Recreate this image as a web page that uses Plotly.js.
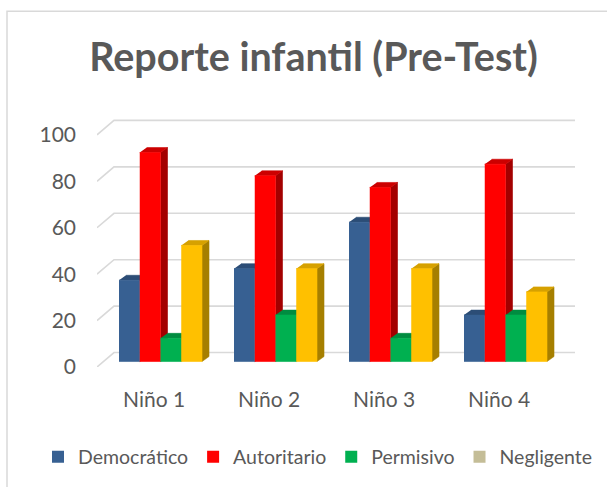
<!DOCTYPE html>
<html><head><meta charset="utf-8">
<script src="https://cdn.plot.ly/plotly-3.0.1.min.js"></script>
<style>html,body{margin:0;padding:0;background:#fff;} #chart{width:607px;height:487px;}</style>
</head><body><div id="chart"></div>
<script>
// ---- data ----
const categories = ['Niño 1', 'Niño 2', 'Niño 3', 'Niño 4'];
const seriesNames = ['Democrático', 'Autoritario', 'Permisivo', 'Negligente'];
const democratico = [35, 40, 60, 20];
const autoritario = [90, 80, 75, 85];
const permisivo = [10, 20, 10, 20];
const negligente = [50, 40, 40, 30];
const yTicks = [0, 20, 40, 60, 80, 100];

// ---- style ----
const series = [democratico, autoritario, permisivo, negligente];
const frontColors = ['#376092', '#FF0000', '#00B050', '#FFC000'];
const topColors = ['#2C4D76', '#CC0000', '#008C40', '#D6A100'];
const sideColors = ['#233E60', '#A30000', '#007333', '#A67F00'];
const legendColors = ['#376092', '#FF0000', '#00B050', '#C4BD97'];
const textColor = '#595959';
const FONT = 'Lato, "Open Sans", sans-serif';

// geometry (pixels -> axis units)
const PX_PER_CAT = 115, PX_PER_UNIT = 2.33;
const W = 607, H = 487;
const plotL = 97, plotR = 575, plotT = 100, plotB = 368;
const xMin = -57.1 / PX_PER_CAT;
const xMax = xMin + (plotR - plotL) / PX_PER_CAT;
const yMax = (plotB - plotT) / PX_PER_UNIT;
const barW = 20.75 / PX_PER_CAT;
const groupLeft = -35.1 / PX_PER_CAT;
const baseOff = 5.5 / PX_PER_UNIT;
const depthX = 7 / PX_PER_CAT, depthY = 5 / PX_PER_UNIT;
const wallX = 17 / PX_PER_CAT, wallY = 14.5 / PX_PER_UNIT;

const traces = [];
series.forEach((vals, k) => {
  const side = {x: [], y: []}, top = {x: [], y: []}, front = {x: [], y: []};
  vals.forEach((v, i) => {
    const xl = i + groupLeft + k * barW, xr = xl + barW;
    const b = baseOff, t = baseOff + v;
    side.x.push(xr, xr + depthX, xr + depthX, xr, null);
    side.y.push(b, b + depthY, t + depthY, t, null);
    top.x.push(xl, xr, xr + depthX, xl + depthX, null);
    top.y.push(t, t, t + depthY, t + depthY, null);
    front.x.push(xl, xr, xr, xl, null);
    front.y.push(b, b, t, t, null);
  });
  [[side, sideColors[k]], [top, topColors[k]], [front, frontColors[k]]].forEach(([p, c]) => {
    traces.push({type: 'scatter', mode: 'lines', x: p.x, y: p.y, fill: 'toself',
      fillcolor: c, line: {color: c, width: 0.6}, hoverinfo: 'skip', showlegend: false});
  });
});
// legend entries
seriesNames.forEach((n, k) => {
  traces.push({type: 'bar', x: [null], y: [null], name: n,
    marker: {color: legendColors[k], line: {width: 0}}, showlegend: true});
});

const shapes = yTicks.map(v => ({
  type: 'path', xref: 'x', yref: 'y', layer: 'below',
  path: `M ${xMin},${v} L ${xMin + wallX},${v + wallY} L ${xMax},${v + wallY}`,
  line: {color: '#D9D9D9', width: 1.6}
}));
// chart frame (left and top edges)
const px2paperX = px => (px - plotL) / (plotR - plotL);
const px2paperY = py => (plotB - py) / (plotB - plotT);
shapes.push({type: 'path', xref: 'paper', yref: 'paper', layer: 'below',
  path: `M ${px2paperX(7)},${px2paperY(495)} L ${px2paperX(7)},${px2paperY(11)} L ${px2paperX(620)},${px2paperY(11)}`,
  line: {color: '#D9D9D9', width: 1.5}});

const layout = {
  width: W, height: H,
  margin: {l: plotL, r: W - plotR, t: plotT, b: H - plotB, pad: 0},
  paper_bgcolor: '#FFFFFF', plot_bgcolor: 'rgba(0,0,0,0)',
  font: {family: FONT, color: textColor},
  title: {text: 'Reporte infantil (Pre-Test)', x: 313.5 / W, xref: 'container', xanchor: 'center',
    y: 1 - 57 / H, yref: 'container', yanchor: 'middle',
    font: {family: FONT, size: 39.5, color: textColor, weight: 'bold'}},
  xaxis: {range: [xMin, xMax], tickvals: [0, 1, 2, 3], ticktext: categories,
    showgrid: false, zeroline: false, showline: false, ticks: '', ticklabelstandoff: 18,
    tickfont: {family: FONT, size: 21, color: textColor}, fixedrange: true},
  yaxis: {range: [0, yMax], tickvals: yTicks, showgrid: false, zeroline: false, showline: false,
    ticks: '', ticklabelstandoff: 20, tickfont: {family: FONT, size: 21, color: textColor}, fixedrange: true},
  legend: {orientation: 'h', x: px2paperX(38), xanchor: 'left', y: px2paperY(457), yanchor: 'middle',
    font: {family: FONT, size: 19.5, color: textColor}, bgcolor: 'rgba(0,0,0,0)', traceorder: 'normal',
    itemclick: false, itemdoubleclick: false},
  shapes: shapes,
  showlegend: true
};
Plotly.newPlot('chart', traces, layout, {staticPlot: true, displayModeBar: false});
</script></body></html>
